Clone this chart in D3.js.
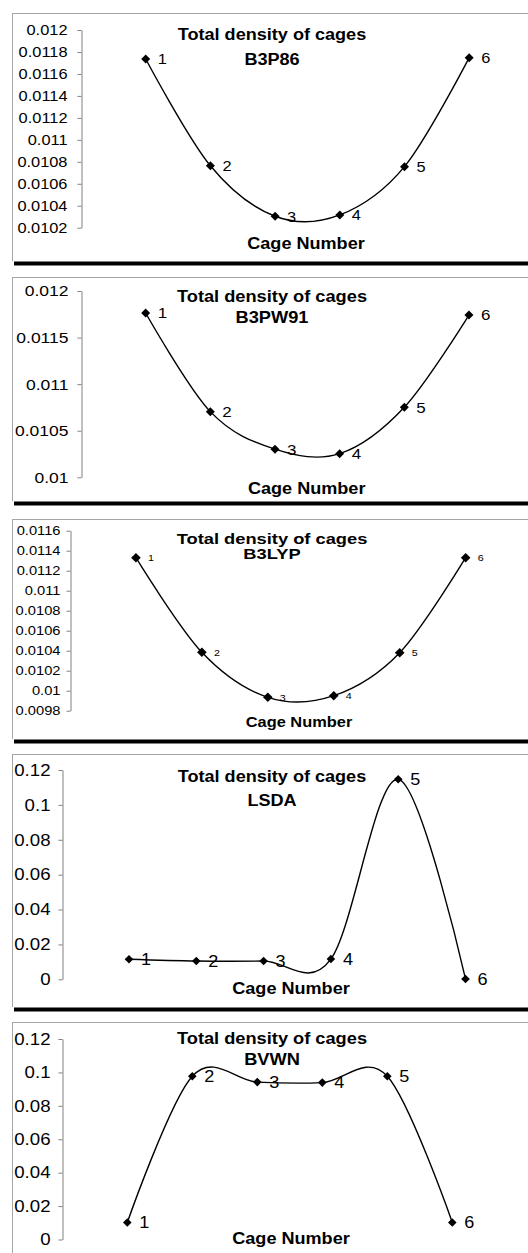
<!DOCTYPE html>
<html>
<head>
<meta charset="utf-8">
<script src="https://cdn.jsdelivr.net/npm/d3@7/dist/d3.min.js"></script>
<style>
  html, body { margin: 0; padding: 0; background: #fff; }
  svg { display: block; }
  text { font-family: "Liberation Sans", Arial, sans-serif; fill: #000; }
</style>
</head>
<body>
<svg id="chart" width="528" height="1253"></svg>
<script>
// Cage numbers along the horizontal axis
const cages = [1, 2, 3, 4, 5, 6];

// Total density of each cage, one series per functional
const b3p86  = [0.011736, 0.010764, 0.010304, 0.010316, 0.010756, 0.011748];
const b3pw91 = [0.011764, 0.010705, 0.010302, 0.010254, 0.010752, 0.011742];
const b3lyp  = [0.01133, 0.010384, 0.009934, 0.00995, 0.01038, 0.01133];
const lsda   = [0.0115, 0.0105, 0.0105, 0.0116, 0.1147, 0.0002];
const bvwn   = [0.0102, 0.0977, 0.0942, 0.0939, 0.0977, 0.0102];

// Functional names shown under the common title
const methods = ["B3P86", "B3PW91", "B3LYP", "LSDA", "BVWN"];

// Value-axis tick labels of each panel
const ticksB3P86  = [0.0102, 0.0104, 0.0106, 0.0108, 0.011, 0.0112, 0.0114, 0.0116, 0.0118, 0.012];
const ticksB3PW91 = [0.01, 0.0105, 0.011, 0.0115, 0.012];
const ticksB3LYP  = [0.0098, 0.01, 0.0102, 0.0104, 0.0106, 0.0108, 0.011, 0.0112, 0.0114, 0.0116];
const ticksLSDA   = [0, 0.02, 0.04, 0.06, 0.08, 0.1, 0.12];
const ticksBVWN   = [0, 0.02, 0.04, 0.06, 0.08, 0.1, 0.12];

const titleText = "Total density of cages";
const xTitleText = "Cage Number";

const series = [b3p86, b3pw91, b3lyp, lsda, bvwn];
const tickSets = [ticksB3P86, ticksB3PW91, ticksB3LYP, ticksLSDA, ticksBVWN];

// Frame and text geometry of each panel
const layout = [
  { top: 13,  bottom: 261,  x0: 81, step: 64.7, yTop: 30,    yBot: 227.7,
    tickFs: 14.5, tickGap: 14, labelFs: 14.5, titleFs: 16, titleSx: 1.13,
    titleY: 39.5, subY: 65, xTitleY: 248.5, xTitleCx: 306, xTitleFs: 16, marker: 4.5 },
  { top: 277, bottom: 501,  x0: 81, step: 64.66, yTop: 291,  yBot: 477.3,
    tickFs: 15.5, tickGap: 13, labelFs: 15, titleFs: 16, titleSx: 1.14,
    titleY: 301.5, subY: 323, xTitleY: 494, xTitleCx: 306.7, xTitleFs: 16, marker: 4.5 },
  { top: 519, bottom: 739,  x0: 70, step: 65.94, yTop: 530.7, yBot: 710.7,
    tickFs: 13, tickGap: 10, labelFs: 9.5, titleFs: 15, titleSx: 1.22,
    titleY: 544, subY: 559, xTitleY: 727, xTitleCx: 299, xTitleFs: 14.5, marker: 4.8 },
  { top: 754, bottom: 1007, x0: 61.7, step: 67.3, yTop: 770,  yBot: 979.3,
    tickFs: 16.5, tickGap: 12, labelFs: 16, titleFs: 16, titleSx: 1.13,
    titleY: 781.5, subY: 806, xTitleY: 994, xTitleCx: 291, xTitleFs: 16, marker: 4.3 },
  { top: 1022, bottom: 1262, x0: 62.3, step: 65, yTop: 1039,  yBot: 1239.5,
    tickFs: 16.5, tickGap: 12, labelFs: 16, titleFs: 16, titleSx: 1.14,
    titleY: 1044, subY: 1065, xTitleY: 1244, xTitleCx: 291, xTitleFs: 16, marker: 4.3 }
];

const chartLeft = 12, chartRight = 532, chartCx = 272, textSx = 1.13;

const svg = d3.select("#chart");
const defs = svg.append("defs");

// Diamond marker for the data points
const diamond = {
  draw(context, size) {
    const r = Math.sqrt(size / 2);
    context.moveTo(0, -r);
    context.lineTo(r, 0);
    context.lineTo(0, r);
    context.lineTo(-r, 0);
    context.closePath();
  }
};

layout.forEach((L, i) => {
  const values = series[i];
  const ticks = tickSets[i];
  const clipId = "clip" + i;

  defs.append("clipPath").attr("id", clipId)
    .append("rect")
    .attr("x", chartLeft).attr("y", L.top)
    .attr("width", chartRight - chartLeft).attr("height", L.bottom - L.top);

  // Underline below each chart frame
  if (L.bottom < 1253) {
    svg.append("rect")
      .attr("x", chartLeft + 2).attr("y", L.bottom + 0.5)
      .attr("width", 528 - chartLeft - 2).attr("height", 4)
      .attr("fill", "#000");
  }

  const g = svg.append("g").attr("clip-path", `url(#${clipId})`);

  // Chart frame
  g.append("rect")
    .attr("x", chartLeft + 0.5).attr("y", L.top + 0.5)
    .attr("width", chartRight - chartLeft).attr("height", L.bottom - L.top)
    .attr("fill", "#fff").attr("stroke", "#a6a6a6").attr("stroke-width", 1);

  const x = d3.scaleLinear().domain([0, 7]).range([L.x0, L.x0 + 7 * L.step]);
  const y = d3.scaleLinear().domain([d3.min(ticks), d3.max(ticks)]).range([L.yBot, L.yTop]);

  // Value axis
  const axis = d3.axisLeft(y)
    .tickValues(ticks)
    .tickSize(4)
    .tickSizeOuter(0)
    .tickFormat(d => String(d));

  const ax = g.append("g")
    .attr("transform", `translate(${Math.round(L.x0) + 0.5},0)`)
    .call(axis);
  ax.select(".domain").attr("stroke", "#808080");
  ax.selectAll(".tick line").attr("stroke", "#808080");
  ax.selectAll(".tick text")
    .attr("font-family", "Liberation Sans, Arial, sans-serif")
    .attr("font-size", L.tickFs)
    .attr("fill", "#000")
    .attr("x", -L.tickGap / textSx)
    .attr("transform", `scale(${textSx},1)`);

  // Titles
  g.append("text")
    .attr("transform", `translate(${chartCx},${L.titleY}) scale(${L.titleSx},1)`)
    .attr("text-anchor", "middle")
    .attr("font-weight", "bold")
    .attr("font-size", L.titleFs)
    .text(titleText);
  g.append("text")
    .attr("transform", `translate(${chartCx},${L.subY}) scale(${L.titleSx},1)`)
    .attr("text-anchor", "middle")
    .attr("font-weight", "bold")
    .attr("font-size", L.titleFs)
    .text(methods[i]);
  g.append("text")
    .attr("transform", `translate(${L.xTitleCx},${L.xTitleY}) scale(${textSx},1)`)
    .attr("text-anchor", "middle")
    .attr("font-weight", "bold")
    .attr("font-size", L.xTitleFs)
    .text(xTitleText);

  // Smoothed line through the cage densities
  const pts = cages.map((c, k) => ({ c, v: values[k] }));
  const line = d3.line()
    .x(d => x(d.c))
    .y(d => y(d.v))
    .curve(d3.curveCardinal.tension(0));

  g.append("path")
    .datum(pts)
    .attr("d", line)
    .attr("fill", "none")
    .attr("stroke", "#000")
    .attr("stroke-width", 1.4);

  // Markers
  const sym = d3.symbol().type(diamond).size(2 * L.marker * L.marker);
  g.selectAll(".pt")
    .data(pts)
    .join("path")
    .attr("class", "pt")
    .attr("transform", d => `translate(${x(d.c)},${y(d.v)})`)
    .attr("d", sym)
    .attr("fill", "#000");

  // Point labels with the cage number
  g.selectAll(".lbl")
    .data(pts)
    .join("text")
    .attr("class", "lbl")
    .attr("transform", d => `translate(${x(d.c) + 12},${y(d.v)}) scale(${textSx},1)`)
    .attr("dy", "0.36em")
    .attr("font-size", L.labelFs)
    .text(d => d.c);
});
</script>
</body>
</html>
